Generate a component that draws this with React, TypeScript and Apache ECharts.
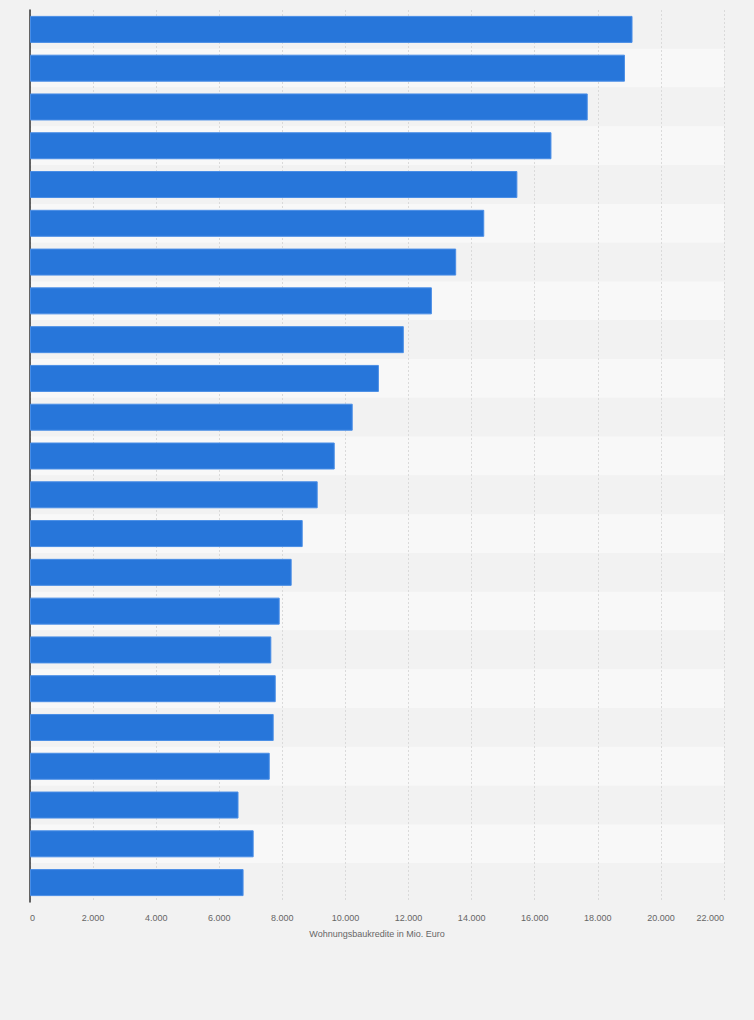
import React, { useEffect, useRef } from "react";
import * as echarts from "echarts";

const categories: string[] = [
  "1", "2", "3", "4", "5", "6", "7", "8", "9", "10", "11", "12",
  "13", "14", "15", "16", "17", "18", "19", "20", "21", "22", "23",
];
const values: number[] = [
  19100, 18860, 17680, 16530, 15450, 14400, 13510, 12740, 11850, 11060, 10230, 9660,
  9120, 8645, 8295, 7915, 7650, 7790, 7725, 7600, 6610, 7090, 6770,
];
const xAxisTitle = "Wohnungsbaukredite in Mio. Euro";

export default function App() {
  const ref = useRef<HTMLDivElement>(null);
  useEffect(() => {
    document.body.style.margin = "0";
    document.body.style.background = "#f2f2f2";
    const chart = echarts.init(ref.current!, null, { renderer: "svg" });
    chart.setOption({
      animation: false,
      backgroundColor: "#f2f2f2",
      grid: { left: 30, right: 30, top: 10, bottom: 118, containLabel: false },
      xAxis: {
        type: "value",
        min: 0,
        max: 22000,
        interval: 2000,
        name: xAxisTitle,
        nameLocation: "middle",
        nameGap: 27,
        nameTextStyle: { color: "#666", fontSize: 9, fontFamily: "Arial, Liberation Sans, sans-serif" },
        axisLine: { show: false },
        axisTick: { show: false },
        axisLabel: {
          color: "#666",
          fontSize: 9,
          margin: 11,
          alignMinLabel: "left",
          alignMaxLabel: "right",
          fontFamily: "Arial, Liberation Sans, sans-serif",
          formatter: (v: number) => v.toLocaleString("de-DE"),
        },
        splitLine: { show: true, lineStyle: { color: "#dadada", type: [2, 2], width: 1 } },
      },
      yAxis: {
        type: "category",
        data: categories,
        inverse: true,
        axisLine: { show: true, lineStyle: { color: "#333", width: 1.5 } },
        axisTick: { show: false },
        axisLabel: { show: false },
        splitLine: { show: false },
        splitArea: { show: true, areaStyle: { color: ["#f2f2f2", "#f8f8f8"] } },
      },
      series: [
        {
          type: "bar",
          data: values,
          barWidth: 27,
          itemStyle: { color: "#2776da", borderColor: "#4a8ee6", borderWidth: 1 },
        },
      ],
    });
    return () => chart.dispose();
  }, []);
  return <div ref={ref} style={{ width: 754, height: 1020 }} />;
}
